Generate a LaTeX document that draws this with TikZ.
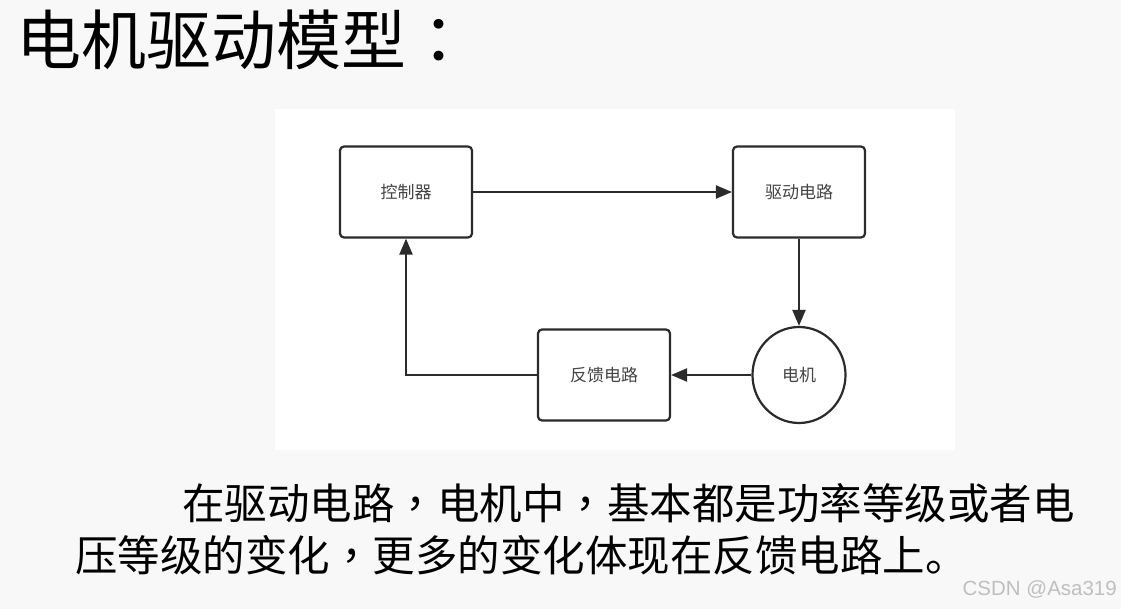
\documentclass[tikz,border=0pt]{standalone}
\usepackage{fontspec}
\newfontfamily\cjk{Noto Sans CJK SC}
\newfontfamily\cjkpunct{Noto Sans CJK TC}
\newfontfamily\wmfont{Liberation Sans}
\usetikzlibrary{arrows.meta,positioning,shapes.geometric}
\definecolor{linegray}{HTML}{2B2B2B}
\definecolor{textgray}{HTML}{444444}
\definecolor{pagegray}{HTML}{F8F8F8}
\newcommand{\zhcomma}{{\cjkpunct ，}}
\tikzset{
  block/.style={draw=linegray, line width=2.2pt, rounded corners=4pt, minimum width=132pt, minimum height=91pt, inner sep=0pt, text=textgray, font=\cjk\fontsize{17}{20}\selectfont},
  motor/.style={draw=linegray, line width=2.2pt, ellipse, minimum width=93pt, minimum height=96pt, inner sep=0pt, text=textgray, font=\cjk\fontsize{17}{20}\selectfont},
  link/.style={draw=linegray, line width=2.2pt, -{Triangle[length=16pt,width=13pt]}},
  bigtext/.style={anchor=west, inner sep=0pt, font=\cjk\fontsize{42.5}{50}\selectfont},
}
\begin{document}
\begin{tikzpicture}[x=1pt,y=-1pt]
			\fill[pagegray] (0,0) rectangle (1121,609);
			\useasboundingbox (0,0) rectangle (1121,609);
			\fill[white] (275,109) rectangle (955,450);
			% title
			\node (title) at (16,40) [anchor=west,inner sep=0pt,font=\cjk\fontsize{65}{72}\selectfont] {电机驱动模型{\cjkpunct ：}};
			% blocks
			\node (ctrl) at (406,192) [block] {控制器};
			\node (drive) at (799,192) [block] {驱动电路};
			\node (fb) at (604,375) [block] {反馈电路};
			\node (motor) at (799,375) [motor] {电机};
			\coordinate (corner) at (406,375);
			\draw[link] (ctrl) -- (drive);
			\draw[link] (drive) -- (motor);
			\draw[link] (motor) -- (fb);
			\draw[link] (fb.west) -- (corner) -- (ctrl.south);
			% text below
			\node (line1) at (182,503) [bigtext] {在驱动电路\zhcomma 电机中\zhcomma 基本都是功率等级或者电};
			\node (line2) at (75,555) [bigtext] {压等级的变化\zhcomma 更多的变化体现在反馈电路上。};
			\node (mark) at (1117,589) [anchor=east,inner sep=0pt,text=black!25,font=\wmfont\fontsize{20.5}{24}\selectfont] {CSDN @Asa319};
		\end{tikzpicture}
\end{document}
